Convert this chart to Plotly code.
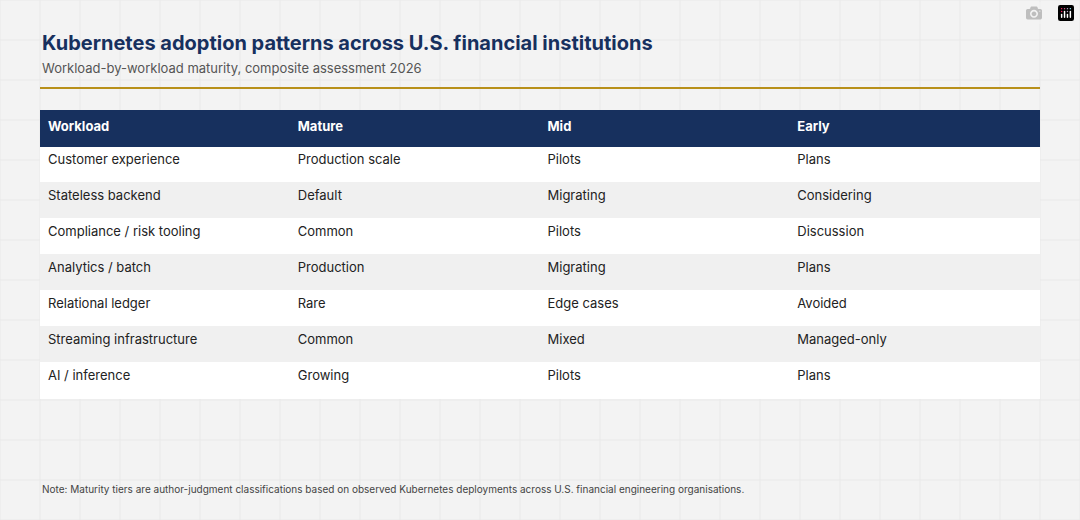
import plotly.graph_objects as go

W, H = 1080, 520
columns = ["Workload", "Mature", "Mid", "Early"]
workloads = ["Customer experience", "Stateless backend", "Compliance / risk tooling",
             "Analytics / batch", "Relational ledger", "Streaming infrastructure", "AI / inference"]
mature = ["Production scale", "Default", "Common", "Production", "Rare", "Common", "Growing"]
mid = ["Pilots", "Migrating", "Pilots", "Migrating", "Edge cases", "Mixed", "Pilots"]
early = ["Plans", "Considering", "Discussion", "Plans", "Avoided", "Managed-only", "Plans"]

font = "Inter, Noto Sans, sans-serif"
fills = ["#ffffff" if i % 2 == 0 else "#f0f0f0" for i in range(len(workloads))]

fig = go.Figure(go.Table(
    domain=dict(x=[40 / W, 1040 / W], y=[0, 1 - 110 / H]),
    columnwidth=[1, 1, 1, 1],
    header=dict(values=["<b>%s</b>" % c for c in columns],
                fill_color="#17305e", line_color="#17305e",
                font=dict(family=font, size=13, color="white"),
                align="left", height=36),
    cells=dict(values=[workloads, mature, mid, early],
               fill_color=[fills] * 4, line=dict(color=[fills] * 4, width=1),
               font=dict(family=font, size=13, color="#222222"),
               align="left", height=36),
))

shapes = []
for x in range(0, W + 1, 40):
    shapes.append(dict(type="line", xref="paper", yref="paper", x0=x / W, x1=x / W, y0=0, y1=1,
                       line=dict(color="#e9e9e9", width=1), layer="below"))
for y in range(0, H + 1, 40):
    shapes.append(dict(type="line", xref="paper", yref="paper", x0=0, x1=1, y0=1 - y / H, y1=1 - y / H,
                       line=dict(color="#e9e9e9", width=1), layer="below"))
shapes.append(dict(type="line", xref="paper", yref="paper", x0=40 / W, x1=1040 / W,
                   y0=1 - 88 / H, y1=1 - 88 / H, line=dict(color="#b8901a", width=2)))

fig.update_layout(
    width=W, height=H, margin=dict(l=0, r=0, t=0, b=0),
    paper_bgcolor="#f3f3f3", plot_bgcolor="#f3f3f3",
    shapes=shapes,
    annotations=[
        dict(text="<b>Kubernetes adoption patterns across U.S. financial institutions</b>",
             x=40 / W, y=1 - 43 / H, xref="paper", yref="paper", xanchor="left", yanchor="middle",
             showarrow=False, font=dict(family=font, size=20, color="#17305e")),
        dict(text="Workload-by-workload maturity, composite assessment 2026",
             x=40 / W, y=1 - 68 / H, xref="paper", yref="paper", xanchor="left", yanchor="middle",
             showarrow=False, font=dict(family=font, size=13, color="#555555")),
        dict(text="Note: Maturity tiers are author-judgment classifications based on observed Kubernetes deployments across U.S. financial engineering organisations.",
             x=40 / W, y=1 - 489 / H, xref="paper", yref="paper", xanchor="left", yanchor="middle",
             showarrow=False, font=dict(family=font, size=10, color="#444444")),
    ],
)
fig.write_html("out.html", post_script="document.body.style.margin='0';")
